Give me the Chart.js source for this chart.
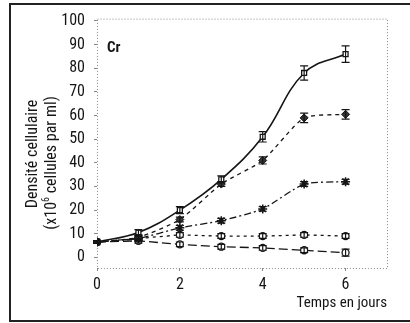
<!DOCTYPE html>
<html lang="fr">
<head>
<meta charset="UTF-8">
<title>Densité cellulaire - Cr</title>
<script src="https://cdn.jsdelivr.net/npm/chart.js"></script>
<style>
  body { margin: 0; width: 410px; height: 323px; overflow: hidden; background: #fff; position: relative; font-family: 'Roboto Condensed', sans-serif; color: #151515; }
  .cadre { position: absolute; left: 9px; top: 3px; width: 430px; height: 315px; border: 2px solid #222; border-right: none; }
  .graf { position: absolute; left: 0; top: 0; width: 410px; height: 323px; }
  .etiquette { position: absolute; left: 107px; top: 38px; font-weight: bold; font-size: 15px; }
  .tituloY { position: absolute; white-space: nowrap; font-size: 16px; line-height: 17px; transform: translate(-50%, -50%) rotate(-90deg); }
  .tituloY sup { font-size: 10px; line-height: 0; }
</style>
</head>
<body>
<div class="cadre"></div>
<div class="graf"><canvas id="grafico"></canvas></div>
<div class="etiquette">Cr</div>
<div class="tituloY" style="left:31px; top:154px;">Densité cellulaire</div>
<div class="tituloY" style="left:50px; top:163px;">(x10<sup>6</sup> cellules par ml)</div>
<script>
    // jours de culture
    const jours = [0, 1, 2, 3, 4, 5, 6];

    // densité (x10^6 cellules par ml) pour chaque courbe
    const serieA = [6.5, 10.5, 20, 33, 51, 78, 86];
    const serieB = [6.5, 8.5, 16, 31, 41, 59, 60.5];
    const serieC = [6.5, 8, 12.5, 15.5, 20.5, 31, 32];
    const serieD = [6.5, 8, 9.5, 9, 9, 9.5, 9];
    const serieE = [6.5, 7, 5.5, 4.5, 4, 3, 2];

    // écarts (barres d'erreur)
    const erreurA = [0.5, 1.2, 1.5, 1.5, 2.2, 3, 3.5];
    const erreurB = [0.5, 1, 1, 1, 1.5, 2, 2];
    const erreurC = [0.5, 1, 1, 1, 1, 1, 1];
    const erreurD = [0.5, 1, 1, 1, 1, 1, 1];
    const erreurE = [0.5, 1, 1, 1, 1, 1, 1.5];

    const ticksY = [0, 10, 20, 30, 40, 50, 60, 70, 80, 90, 100];
    const ticksX = [0, 2, 4, 6];

    const fonte = "'Roboto Condensed', 'DejaVu Sans Condensed', sans-serif";
    const preto = '#151515';

    function pontos(valores) {
        return jours.map((j, i) => ({ x: j, y: valores[i] }));
    }

    // cadre pointillé autour de la zone du graphique
    const cadrePlugin = {
        id: 'cadre',
        beforeDatasetsDraw(chart) {
            const a = chart.chartArea;
            const ctx = chart.ctx;
            ctx.save();
            ctx.strokeStyle = '#8a8a8a';
            ctx.lineWidth = 1;
            ctx.setLineDash([1, 2]);
            ctx.strokeRect(a.left + 0.5, a.top + 0.5, a.right - a.left, a.bottom - a.top);
            ctx.restore();
        }
    };

    // barres d'erreur
    const erreurPlugin = {
        id: 'erreurs',
        afterDatasetsDraw(chart) {
            const ctx = chart.ctx;
            const y = chart.scales.y;
            ctx.save();
            ctx.strokeStyle = preto;
            ctx.lineWidth = 1.2;
            ctx.setLineDash([]);
            chart.data.datasets.forEach((ds, k) => {
                const meta = chart.getDatasetMeta(k);
                meta.data.forEach((pt, i) => {
                    const e = ds.erreurs[i];
                    const yh = y.getPixelForValue(ds.data[i].y + e);
                    const yb = y.getPixelForValue(ds.data[i].y - e);
                    ctx.beginPath();
                    ctx.moveTo(pt.x, yh); ctx.lineTo(pt.x, yb);
                    ctx.moveTo(pt.x - 4, yh); ctx.lineTo(pt.x + 4, yh);
                    ctx.moveTo(pt.x - 4, yb); ctx.lineTo(pt.x + 4, yb);
                    ctx.stroke();
                });
            });
            ctx.restore();
        }
    };

    var ctx = document.getElementById('grafico').getContext('2d');
    var grafico = new Chart(ctx, {
        type: 'line',
        data: {
            datasets: [{
                data: pontos(serieA),
                erreurs: erreurA,
                borderColor: preto,
                borderWidth: 1.6,
                tension: 0.4,
                pointStyle: 'rect',
                pointRadius: 3.5,
                pointBackgroundColor: '#fff',
                pointBorderColor: preto,
                pointBorderWidth: 1.3
            }, {
                data: pontos(serieB),
                erreurs: erreurB,
                borderColor: preto,
                borderWidth: 1.3,
                borderDash: [4, 4],
                tension: 0.2,
                pointStyle: 'rectRot',
                pointRadius: 4,
                pointBackgroundColor: '#333',
                pointBorderColor: preto,
                pointBorderWidth: 1
            }, {
                data: pontos(serieC),
                erreurs: erreurC,
                borderColor: preto,
                borderWidth: 1.3,
                borderDash: [7, 3, 2, 3],
                tension: 0.2,
                pointStyle: 'star',
                pointRadius: 4.5,
                pointBorderColor: preto,
                pointBorderWidth: 1.5
            }, {
                data: pontos(serieD),
                erreurs: erreurD,
                borderColor: preto,
                borderWidth: 1.3,
                borderDash: [3, 4],
                tension: 0,
                pointStyle: 'circle',
                pointRadius: 3.5,
                pointBackgroundColor: '#fff',
                pointBorderColor: preto,
                pointBorderWidth: 1.3
            }, {
                data: pontos(serieE),
                erreurs: erreurE,
                borderColor: preto,
                borderWidth: 1.3,
                borderDash: [9, 4],
                tension: 0,
                pointStyle: 'circle',
                pointRadius: 3.5,
                pointBackgroundColor: '#fff',
                pointBorderColor: preto,
                pointBorderWidth: 1.3
            }]
        },
        options: {
            responsive: true,
            maintainAspectRatio: false,
            animation: false,
            layout: { padding: { top: 16, right: 23, bottom: 0, left: 0 } },
            plugins: {
                legend: { display: false },
                tooltip: { enabled: false }
            },
            scales: {
                x: {
                    type: 'linear',
                    min: 0,
                    max: 7,
                    afterBuildTicks: (s) => { s.ticks = ticksX.map(v => ({ value: v })); },
                    afterFit: (s) => { s.height = 55; },
                    border: { display: false },
                    grid: { display: true, drawOnChartArea: false, tickLength: 3, color: '#888' },
                    ticks: { color: preto, font: { family: fonte, size: 16 }, padding: 4, maxRotation: 0 },
                    title: {
                        display: true,
                        text: 'Temps en jours',
                        align: 'end',
                        color: preto,
                        font: { family: fonte, size: 15 },
                        padding: { top: 0, bottom: 11 }
                    }
                },
                y: {
                    type: 'linear',
                    min: -4.5,
                    max: 101,
                    afterBuildTicks: (s) => { s.ticks = ticksY.map(v => ({ value: v })); },
                    afterFit: (s) => { s.width = 97; },
                    border: { display: false },
                    grid: { display: true, drawOnChartArea: false, tickLength: 3, color: '#888' },
                    ticks: { color: preto, font: { family: fonte, size: 16 }, padding: 9 },
                    title: { display: false }
                }
            }
        },
        plugins: [cadrePlugin, erreurPlugin]
    });
</script>
</body>
</html>
